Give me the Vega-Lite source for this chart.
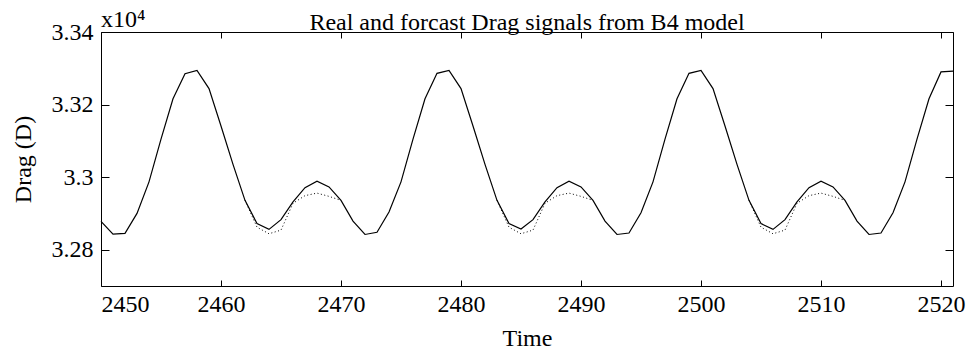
{
  "$schema": "https://vega.github.io/schema/vega-lite/v6.json",
  "autosize": {"type": "none"},
  "width": 852,
  "height": 254,
  "padding": {"left": 101, "top": 32, "right": 16, "bottom": 67},
  "background": "white",
  "title": {"text": "Real and forcast Drag signals from B4 model", "anchor": "middle", "frame": "group", "font": "Liberation Serif", "fontSize": 24, "fontWeight": "normal", "color": "black", "baseline": "alphabetic", "offset": -46},
  "config": {
    "font": "Liberation Serif",
    "view": {"stroke": "black", "strokeWidth": 1},
    "axis": {"grid": false, "domain": false, "ticks": true, "tickColor": "black", "labelColor": "black", "titleColor": "black", "labelFont": "Liberation Serif", "titleFont": "Liberation Serif", "labelFontSize": 24, "titleFontSize": 24, "titleFontWeight": "normal", "tickWidth": 1}
  },
  "datasets": {
    "real": [
      {"t": 2450, "v": 3.2878}, {"t": 2451, "v": 3.2843}, {"t": 2452, "v": 3.2845}, {"t": 2453, "v": 3.2900}, {"t": 2454, "v": 3.2987}, {"t": 2455, "v": 3.3105}, {"t": 2456, "v": 3.3216}, {"t": 2457, "v": 3.3285}, {"t": 2458, "v": 3.3294}, {"t": 2459, "v": 3.3244}, {"t": 2460, "v": 3.3141}, {"t": 2461, "v": 3.3035}, {"t": 2462, "v": 3.2936}, {"t": 2463, "v": 3.2872}, {"t": 2464, "v": 3.2856}, {"t": 2465, "v": 3.2883}, {"t": 2466, "v": 3.2932}, {"t": 2467, "v": 3.2971}, {"t": 2468, "v": 3.2989}, {"t": 2469, "v": 3.2973}, {"t": 2470, "v": 3.2936},
      {"t": 2471, "v": 3.2879}, {"t": 2472, "v": 3.2842}, {"t": 2473, "v": 3.2848}, {"t": 2474, "v": 3.2904}, {"t": 2475, "v": 3.2987}, {"t": 2476, "v": 3.3105}, {"t": 2477, "v": 3.3216}, {"t": 2478, "v": 3.3286}, {"t": 2479, "v": 3.3294}, {"t": 2480, "v": 3.3244}, {"t": 2481, "v": 3.3141}, {"t": 2482, "v": 3.3035}, {"t": 2483, "v": 3.2936}, {"t": 2484, "v": 3.2872}, {"t": 2485, "v": 3.2857}, {"t": 2486, "v": 3.2883}, {"t": 2487, "v": 3.2932}, {"t": 2488, "v": 3.2971}, {"t": 2489, "v": 3.2989}, {"t": 2490, "v": 3.2973}, {"t": 2491, "v": 3.2936},
      {"t": 2492, "v": 3.2879}, {"t": 2493, "v": 3.2842}, {"t": 2494, "v": 3.2846}, {"t": 2495, "v": 3.2902}, {"t": 2496, "v": 3.2987}, {"t": 2497, "v": 3.3105}, {"t": 2498, "v": 3.3216}, {"t": 2499, "v": 3.3286}, {"t": 2500, "v": 3.3294}, {"t": 2501, "v": 3.3244}, {"t": 2502, "v": 3.3141}, {"t": 2503, "v": 3.3035}, {"t": 2504, "v": 3.2936}, {"t": 2505, "v": 3.2872}, {"t": 2506, "v": 3.2856}, {"t": 2507, "v": 3.2883}, {"t": 2508, "v": 3.2932}, {"t": 2509, "v": 3.2971}, {"t": 2510, "v": 3.2989}, {"t": 2511, "v": 3.2973}, {"t": 2512, "v": 3.2936},
      {"t": 2513, "v": 3.2879}, {"t": 2514, "v": 3.2842}, {"t": 2515, "v": 3.2846}, {"t": 2516, "v": 3.2902}, {"t": 2517, "v": 3.2987}, {"t": 2518, "v": 3.3105}, {"t": 2519, "v": 3.3216}, {"t": 2520, "v": 3.3290}, {"t": 2521, "v": 3.3292}
    ],
    "forecast": [
      {"t": 2462, "v": 3.2936, "seg": 1}, {"t": 2463, "v": 3.2862, "seg": 1}, {"t": 2464, "v": 3.2844, "seg": 1}, {"t": 2465, "v": 3.2854, "seg": 1}, {"t": 2466, "v": 3.2928, "seg": 1}, {"t": 2467, "v": 3.2949, "seg": 1}, {"t": 2468, "v": 3.2956, "seg": 1}, {"t": 2469, "v": 3.2947, "seg": 1}, {"t": 2470, "v": 3.2936, "seg": 1},
      {"t": 2483, "v": 3.2936, "seg": 2}, {"t": 2484, "v": 3.2862, "seg": 2}, {"t": 2485, "v": 3.2844, "seg": 2}, {"t": 2486, "v": 3.2854, "seg": 2}, {"t": 2487, "v": 3.2928, "seg": 2}, {"t": 2488, "v": 3.2949, "seg": 2}, {"t": 2489, "v": 3.2956, "seg": 2}, {"t": 2490, "v": 3.2947, "seg": 2}, {"t": 2491, "v": 3.2936, "seg": 2},
      {"t": 2504, "v": 3.2936, "seg": 3}, {"t": 2505, "v": 3.2862, "seg": 3}, {"t": 2506, "v": 3.2844, "seg": 3}, {"t": 2507, "v": 3.2854, "seg": 3}, {"t": 2508, "v": 3.2928, "seg": 3}, {"t": 2509, "v": 3.2949, "seg": 3}, {"t": 2510, "v": 3.2956, "seg": 3}, {"t": 2511, "v": 3.2947, "seg": 3}, {"t": 2512, "v": 3.2936, "seg": 3}
    ],
    "label": [{"t": 2450, "v": 3.34, "txt": "x10⁴"}]
  },
  "layer": [
    {
      "data": {"name": "real"},
      "mark": {"type": "line", "color": "black", "strokeWidth": 1.2},
      "encoding": {
        "x": {"field": "t", "type": "quantitative", "scale": {"domain": [2450, 2521], "nice": false, "zero": false},
              "axis": {"orient": "bottom", "title": "Time", "values": [2450, 2460, 2470, 2480, 2490, 2500, 2510, 2520], "format": "d", "offset": -6, "tickSize": 6, "labelPadding": 6, "titlePadding": 10}},
        "y": {"field": "v", "type": "quantitative", "scale": {"domain": [3.27, 3.34], "nice": false, "zero": false},
              "axis": {"orient": "left", "title": "Drag (D)", "values": [3.28, 3.3, 3.32, 3.34], "format": "~g", "offset": -8, "tickSize": 8, "labelPadding": 8, "titlePadding": 16}}
      }
    },
    {
      "data": {"name": "forecast"},
      "mark": {"type": "line", "color": "black", "strokeWidth": 1, "strokeDash": [1, 2.5]},
      "encoding": {
        "x": {"field": "t", "type": "quantitative", "axis": {"orient": "top", "title": null, "labels": false, "values": [2450, 2460, 2470, 2480, 2490, 2500, 2510, 2520], "offset": -6, "tickSize": 6}},
        "y": {"field": "v", "type": "quantitative", "axis": {"orient": "right", "title": null, "labels": false, "values": [3.28, 3.3, 3.32, 3.34], "offset": -8, "tickSize": 8}},
        "detail": {"field": "seg", "type": "nominal"}
      }
    },
    {
      "data": {"name": "label"},
      "mark": {"type": "text", "align": "left", "baseline": "alphabetic", "dy": -5, "fontSize": 24, "font": "Liberation Serif", "color": "black"},
      "encoding": {
        "x": {"field": "t", "type": "quantitative", "axis": null},
        "y": {"field": "v", "type": "quantitative", "axis": null},
        "text": {"field": "txt"}
      }
    }
  ],
  "resolve": {"axis": {"x": "independent", "y": "independent"}}
}
